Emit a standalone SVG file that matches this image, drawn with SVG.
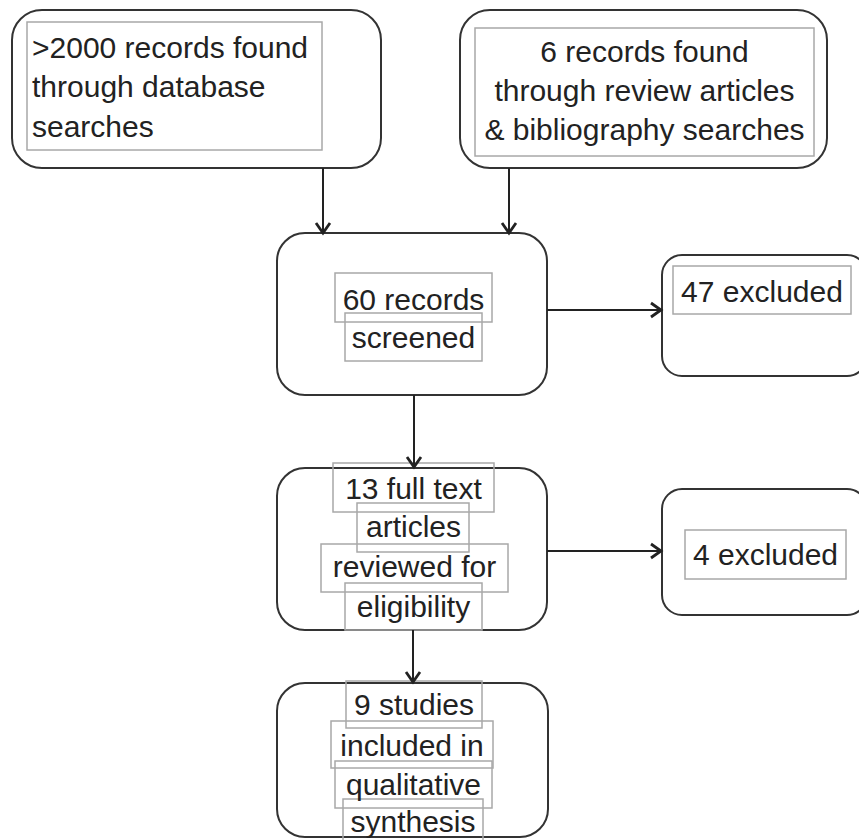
<svg xmlns="http://www.w3.org/2000/svg" width="859" height="840" viewBox="0 0 859 840">
<style>
.box{fill:#fff;stroke:#333;stroke-width:2}
.tb{fill:none;stroke:#a8a8a8;stroke-width:1.5}
.t{font-family:"Liberation Sans",Arial,sans-serif;font-size:30px;fill:#222}
.c{text-anchor:middle}
.e{fill:none;stroke:#222;stroke-width:2}
</style>
<defs>
<marker id="ah" markerUnits="userSpaceOnUse" markerWidth="20" markerHeight="20" viewBox="-12 -10 14 20" refX="0" refY="0" orient="auto">
<path d="M-10,-7 L0,0 L-10,7" fill="none" stroke="#222" stroke-width="2.8"/>
</marker>
</defs>
<rect width="859" height="840" fill="#fff"/>
<g id="n1">
<rect class="box" x="12" y="10" width="369" height="158" rx="30"/>
<rect class="tb" x="27" y="22" width="295" height="128"/>
<text class="t" x="32" y="58">&gt;2000 records found</text>
<text class="t" x="32" y="97">through database</text>
<text class="t" x="32" y="137">searches</text>
</g>
<g id="n2">
<rect class="box" x="460" y="10" width="367" height="158" rx="30"/>
<rect class="tb" x="475" y="28" width="339" height="128"/>
<text class="t c" x="644.5" y="62">6 records found</text>
<text class="t c" x="644.5" y="101">through review articles</text>
<text class="t c" x="644.5" y="140">&amp; bibliography searches</text>
</g>
<g id="n3">
<rect class="box" x="277" y="233" width="270" height="162" rx="28"/>
<rect class="tb" x="335" y="273" width="157" height="49"/>
<rect class="tb" x="345" y="313" width="137" height="48"/>
<text class="t c" x="413.5" y="310">60 records</text>
<text class="t c" x="413.5" y="348">screened</text>
</g>
<g id="n4">
<rect class="box" x="662" y="255" width="205" height="121" rx="20"/>
<rect class="tb" x="673" y="266" width="178" height="48"/>
<text class="t c" x="762" y="302">47 excluded</text>
</g>
<g id="n5">
<rect class="box" x="277" y="468" width="270" height="162" rx="28"/>
<rect class="tb" x="333" y="463" width="161" height="49"/>
<rect class="tb" x="357" y="503" width="112" height="49"/>
<rect class="tb" x="321" y="544" width="187" height="48"/>
<rect class="tb" x="345" y="583" width="137" height="47"/>
<text class="t c" x="413.5" y="499">13 full text</text>
<text class="t c" x="413.5" y="537">articles</text>
<text class="t c" x="414.5" y="577">reviewed for</text>
<text class="t c" x="413.5" y="617">eligibility</text>
</g>
<g id="n6">
<rect class="box" x="662" y="489" width="205" height="126" rx="20"/>
<rect class="tb" x="685" y="530" width="161" height="49"/>
<text class="t c" x="765.5" y="565">4 excluded</text>
</g>
<g id="n7">
<rect class="box" x="277" y="683" width="271" height="154" rx="28"/>
<rect class="tb" x="346" y="681" width="136" height="47"/>
<rect class="tb" x="331" y="721" width="162" height="47"/>
<rect class="tb" x="335" y="761" width="157" height="47"/>
<rect class="tb" x="343" y="799" width="140" height="45"/>
<text class="t c" x="414" y="715">9 studies</text>
<text class="t c" x="412" y="756">included in</text>
<text class="t c" x="413.5" y="795">qualitative</text>
<text class="t c" x="413" y="832">synthesis</text>
</g>
<g id="edges">
<line class="e" x1="323" y1="168" x2="323" y2="233" marker-end="url(#ah)"/>
<line class="e" x1="509" y1="168" x2="509" y2="233" marker-end="url(#ah)"/>
<line class="e" x1="547" y1="310" x2="661" y2="310" marker-end="url(#ah)"/>
<line class="e" x1="414" y1="395" x2="414" y2="467" marker-end="url(#ah)"/>
<line class="e" x1="547" y1="551" x2="661" y2="551" marker-end="url(#ah)"/>
<line class="e" x1="413" y1="630" x2="413" y2="682" marker-end="url(#ah)"/>
</g>
</svg>
